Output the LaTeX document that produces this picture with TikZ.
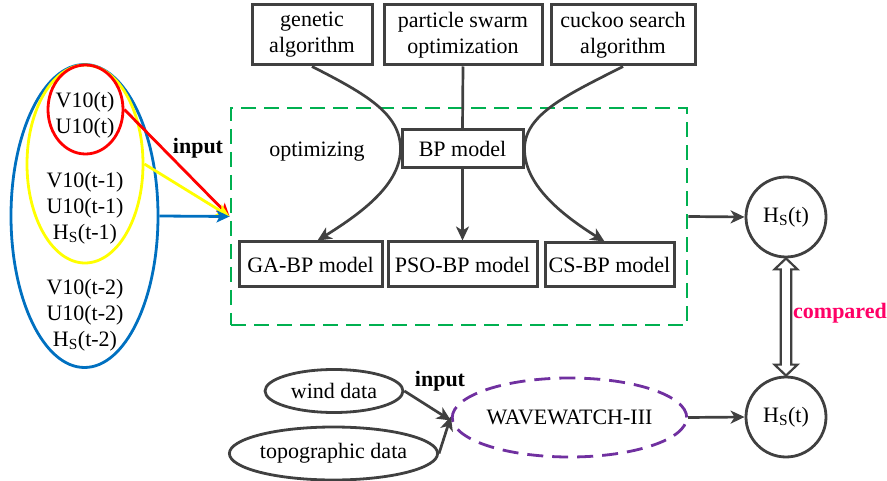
\documentclass[tikz,border=0pt]{standalone}
\usepackage{fontspec}
\setmainfont{Liberation Serif}
\usetikzlibrary{shapes.geometric,arrows.meta}
\definecolor{ln}{HTML}{404040}
\definecolor{grn}{HTML}{00B050}
\definecolor{pur}{HTML}{7030A0}
\definecolor{blu}{HTML}{0070C0}
\definecolor{yel}{HTML}{FFFF00}
\definecolor{rd}{HTML}{FF0000}
\definecolor{mag}{HTML}{FF0066}
\newcommand\hsub{H\textsubscript{S}}
\tikzset{
  box/.style={draw=ln, line width=3pt, align=center, inner sep=0pt},
  conn/.style={draw=ln, line width=2.7pt},
  tip/.style={-{Stealth[length=14pt,width=13pt,inset=4pt]}},
  oval/.style={ellipse, draw=ln, line width=2.8pt, inner sep=0pt},
  rnd/.style={circle, draw=ln, line width=2.8pt, minimum size=80pt, inner sep=0pt},
  lbl/.style={align=center, inner sep=0pt},
  boldlbl/.style={inner sep=0pt, font=\fontsize{22}{26}\selectfont\bfseries},
  colarrow/.style={line width=2.8pt, -{Stealth[length=13pt,width=12pt,inset=3pt]}},
}
\begin{document}
\begin{tikzpicture}[x=1pt, y=-1pt, font=\fontsize{22}{26}\selectfont]
\useasboundingbox (0,0) rectangle (887,481);

% input variable groups
\node[ellipse, draw=blu, line width=2.8pt, minimum width=147pt, minimum height=303pt] (blue) at (84.5,216) {};
\node[ellipse, draw=yel, line width=2.8pt, minimum width=116pt, minimum height=198pt] (yellow) at (85,164) {};
\node[ellipse, draw=rd, line width=2.8pt, minimum width=75pt, minimum height=89pt] (red) at (85.5,109.5) {};
\node[lbl] (g1) at (85,115.5) {V10(t)\\U10(t)};
\node[lbl] (g2) at (85,208.5) {V10(t-1)\\U10(t-1)\\\hsub(t-1)};
\node[lbl] (g3) at (85,315) {V10(t-2)\\U10(t-2)\\\hsub(t-2)};

% optimisation frame
\node[draw=grn, line width=2.8pt, dash pattern=on 15pt off 8pt, minimum width=456pt, minimum height=217pt, inner sep=0pt] (opt) at (459,216.5) {};
\node[lbl] (optlbl) at (317,152) {optimizing};
\node[boldlbl] (in1) at (198,148) {input};

% algorithms
\node[box, minimum width=120pt, minimum height=60pt] (gen) at (312,35) {genetic\\algorithm};
\node[box, minimum width=158pt, minimum height=60pt] (pso) at (463,35) {particle swarm\\optimization};
\node[box, minimum width=144pt, minimum height=60pt] (cuc) at (623,35) {cuckoo search\\algorithm};

\node[box, minimum width=121pt, minimum height=38pt] (bp) at (462.5,149) {BP model};

\node[box, minimum width=143pt, minimum height=45pt] (gabp) at (310.5,264.5) {GA-BP model};
\node[box, minimum width=149pt, minimum height=45pt] (psobp) at (462.5,264.5) {PSO-BP model};
\node[box, minimum width=129pt, minimum height=44pt] (csbp) at (609.5,265) {CS-BP model};

% outputs
\node[rnd] (hs1) at (786,217) {\hsub(t)};
\node[rnd] (hs2) at (786,417) {\hsub(t)};
\node[inner sep=0pt, font=\fontsize{22}{26}\selectfont\bfseries, text=mag] (cmp) at (840,313) {compared};

% numerical model
\node[oval, minimum width=138pt, minimum height=43pt] (wind) at (334,391) {wind data};
\node[oval, minimum width=193pt, minimum height=53pt] (topo) at (333.5,453.5) {topographic data};
\node[ellipse, draw=pur, line width=2.8pt, dash pattern=on 16pt off 9pt, minimum width=225pt, minimum height=79pt, inner sep=0pt] (ww) at (569.5,417.5) {WAVEWATCH-III};
\node[boldlbl] (in2) at (440,381) {input};

% connectors: inputs
\draw[draw=rd, colarrow] (red.east) -- (opt.west);
\draw[draw=yel, colarrow] (yellow.east) -- (opt.west);
\draw[draw=blu, colarrow] (blue.east) -- (opt.west);

% connectors: optimisation
\draw[conn, tip] (gen.south) .. controls +(55,28) and +(0,-35) .. (bp.west)
  .. controls +(0,35) and +(45,-28) .. ([xshift=7pt]gabp.north);
\draw[conn, tip] (cuc.south) .. controls +(-55,28) and +(0,-35) .. (bp.east)
  .. controls +(0,35) and +(-45,-28) .. ([xshift=-5pt]csbp.north);
\draw[conn] (pso.south) -- (bp.north);
\draw[conn, tip] (bp.south) -- (psobp.north);
\draw[conn, tip] (opt.east) -- (hs1.west);

% connectors: numerical model
\draw[conn, tip] (wind.east) -- ([yshift=-3pt]ww.west);
\draw[conn, tip] (topo.east) -- ([yshift=1pt]ww.west);
\draw[conn, tip] (ww.east) -- (hs2.west);

% comparison: hollow double-headed block arrow
\draw[draw=ln, line width=2.2pt, fill=white, line join=miter]
  (hs1.south) -- ++(-11.5,11) -- ++(6.2,0)
  -- ([xshift=-5.3pt,yshift=11pt]hs2.north) -- ++(-6.2,0)
  -- (hs2.north) -- ++(11.5,-11) -- ++(-6.2,0)
  -- ([xshift=5.3pt,yshift=-11pt]hs1.south) -- ++(6.2,0) -- cycle;
\end{tikzpicture}
\end{document}
